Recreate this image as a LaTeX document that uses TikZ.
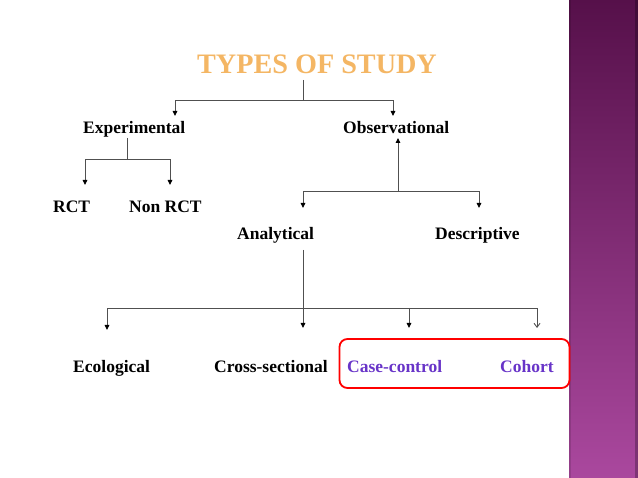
\documentclass[tikz,border=0pt]{standalone}
\usepackage{fontspec}
\setmainfont{Liberation Serif}
\usetikzlibrary{arrows.meta}
\definecolor{linegray}{RGB}{80,80,80}
\definecolor{titleorange}{RGB}{244,182,100}
\definecolor{violettext}{RGB}{104,52,200}
\definecolor{bandtop}{RGB}{86,16,74}
\definecolor{bandbot}{RGB}{170,72,158}
\tikzset{
  lbl/.style={anchor=base west,inner sep=0pt,font=\bfseries\fontsize{17.5}{20}\selectfont,text=black},
  vlbl/.style={lbl,text=violettext},
  conn/.style={draw=linegray,line width=0.9pt},
  arr/.style={conn,-{Triangle[width=4.5pt,length=5pt,color=black,fill=black]}},
  openarr/.style={conn,-{Straight Barb[width=6pt,length=4pt]}},
}
\begin{document}
\begin{tikzpicture}[x=1pt,y=-1pt]
\useasboundingbox (0,0) rectangle (638,478);
% right band
\shade[top color=bandtop,bottom color=bandbot] (569,0) rectangle (638,478);
\fill[black,opacity=0.25] (635,0) rectangle (638,478);
\fill[black,opacity=0.12] (569,0) rectangle (570.5,478);
% title
\node[anchor=base,inner sep=0pt,font=\bfseries\fontsize{28.2}{32}\selectfont,text=titleorange] (title) at (317,74) {TYPES OF STUDY};
% labels
\node[lbl] (exp) at (83,134) {Experimental};
\node[lbl] (obs) at (343,134) {Observational};
\node[lbl] (rct) at (53,213) {RCT};
\node[lbl] (nrct) at (129,213) {Non RCT};
\node[lbl] (ana) at (237,240) {Analytical};
\node[lbl] (des) at (435,240) {Descriptive};
\node[lbl] (eco) at (73,373) {Ecological};
\node[lbl] (cross) at (214,373) {Cross-sectional};
\node[vlbl] (cc) at (347,373) {Case-control};
\node[vlbl] (coh) at (500,373) {Cohort};
% highlight box
\node[draw=red,line width=1.8pt,rounded corners=8pt,inner sep=0pt,minimum width=230pt,minimum height=49pt] (box) at (454.5,363.5) {};
% junction coordinates
\coordinate (t0) at (303,80);
\coordinate (t1) at (303,100);
\coordinate (tL) at (175,100);
\coordinate (tR) at (393,100);
\coordinate (aExp) at (175,116);
\coordinate (aObs) at (393,116);
\coordinate (e0) at (127,138);
\coordinate (e1) at (127,159);
\coordinate (eL) at (85,159);
\coordinate (eR) at (170,159);
\coordinate (aRct) at (85,185);
\coordinate (aNrct) at (170,185);
\coordinate (o0) at (398,138);
\coordinate (o1) at (398,191);
\coordinate (oL) at (303,191);
\coordinate (oR) at (479,191);
\coordinate (aAna) at (303,208);
\coordinate (aDes) at (479,208);
\coordinate (n0) at (303,250);
\coordinate (h1) at (303,308);
\coordinate (hL) at (107,308);
\coordinate (hC) at (409,308);
\coordinate (hR) at (537,308);
\coordinate (aEco) at (107,330);
\coordinate (aCross) at (303,328);
\coordinate (aCc) at (409,328);
\coordinate (aCoh) at (537,328);
% connectors
\draw[conn] (t0) -- (t1);
\draw[arr] (t1) -- (tL) -- (aExp);
\draw[arr] (t1) -- (tR) -- (aObs);
\draw[conn] (e0) -- (e1);
\draw[arr] (e1) -- (eL) -- (aRct);
\draw[arr] (e1) -- (eR) -- (aNrct);
\draw[arr] (o1) -- (o0);
\draw[arr] (o1) -- (oL) -- (aAna);
\draw[arr] (o1) -- (oR) -- (aDes);
\draw[arr] (n0) -- (aCross);
\draw[arr] (h1) -- (hL) -- (aEco);
\draw[arr] (hC) -- (aCc);
\draw[conn] (h1) -- (hC);
\draw[openarr] (hC) -- (hR) -- (aCoh);
\end{tikzpicture}
\end{document}
